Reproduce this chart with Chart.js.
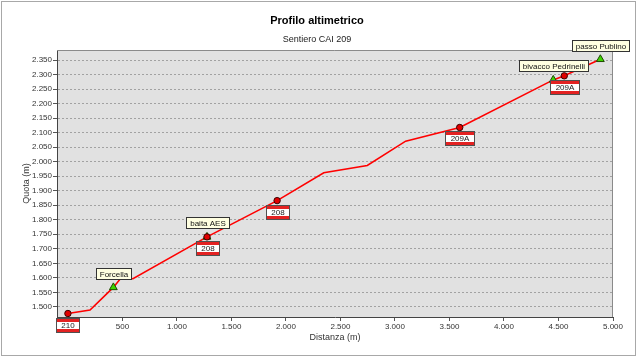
<!DOCTYPE html>
<html>
<head>
<meta charset="utf-8">
<script src="https://cdn.jsdelivr.net/npm/chart.js@4.4.1/dist/chart.umd.min.js"></script>
<style>
  html, body { margin: 0; padding: 0; background: #fff; }
  #wrap { width: 640px; height: 357px; }
</style>
</head>
<body>
<div id="wrap"><canvas id="profilo" width="640" height="357"></canvas></div>
<script>
// vertici del profilo: distanza (m) e quota (m)
const distanza = [0, 203, 417, 490, 597, 1276, 1919, 2347, 2746, 3098, 3594, 4452, 4553, 4884];
const quota = [1477, 1489, 1567, 1601, 1597, 1741, 1866, 1962, 1987, 2071, 2118, 2282, 2296, 2353];

// segnavia (pallini rossi)
const segnaviaDist = [0, 1276, 1919, 3594, 4553];
const segnaviaQuota = [1477, 1741, 1866, 2118, 2296];
const segnaviaNomi = ["210", "208", "208", "209A", "209A"];

// localita' (triangoli verdi)
const luoghiDist = [417, 1276, 4452, 4884];
const luoghiQuota = [1567, 1741, 2282, 2353];
const luoghiNomi = ["Forcella", "baita AES", "bivacco Pedrinelli", "passo Publino"];

const xTicks = [500, 1000, 1500, 2000, 2500, 3000, 3500, 4000, 4500, 5000];
const yTicks = [1500, 1550, 1600, 1650, 1700, 1750, 1800, 1850, 1900, 1950,
                2000, 2050, 2100, 2150, 2200, 2250, 2300, 2350];

const FONT = '"Liberation Sans", Arial, sans-serif';
Chart.defaults.font.family = FONT;

// 2350 -> "2.350"
const fmt = (v) => String(v).replace(/\B(?=(\d{3})+(?!\d))/g, ".");

const toXY = (xs, ys) => xs.map((x, i) => ({ x: x, y: ys[i] }));

// sfondo, cornice e area del grafico
const sfondoPlugin = {
  id: "sfondo",
  beforeDraw: (chart) => {
    const ctx = chart.ctx;
    const a = chart.chartArea;
    ctx.save();
    ctx.fillStyle = "#fff";
    ctx.fillRect(0, 0, chart.width, chart.height);
    ctx.strokeStyle = "#a8a8a8";
    ctx.lineWidth = 1;
    ctx.strokeRect(1.5, 1.5, 634, 354);
    ctx.fillStyle = "#e1e1e1";
    ctx.fillRect(a.left, a.top, a.right - a.left, a.bottom - a.top);
    ctx.restore();
  },
  beforeDatasetsDraw: (chart) => {
    const ctx = chart.ctx;
    const a = chart.chartArea;
    ctx.save();
    ctx.strokeStyle = "#8a8a8a";
    ctx.lineWidth = 1;
    ctx.beginPath();
    ctx.moveTo(a.left, a.top + 0.5);
    ctx.lineTo(a.right - 0.5, a.top + 0.5);
    ctx.lineTo(a.right - 0.5, a.bottom);
    ctx.stroke();
    ctx.restore();
  },
};

// etichette dei segnavia e delle localita'
const etichettePlugin = {
  id: "etichette",
  afterDatasetsDraw: (chart) => {
    const ctx = chart.ctx;
    const sx = chart.scales.x;
    const sy = chart.scales.y;
    ctx.save();
    ctx.font = "8px " + FONT;
    ctx.textAlign = "center";
    ctx.textBaseline = "middle";
    ctx.lineWidth = 1;

    segnaviaNomi.forEach((nome, i) => {
      const cx = sx.getPixelForValue(segnaviaDist[i]);
      const cy = sy.getPixelForValue(segnaviaQuota[i]);
      const w = Math.round(ctx.measureText(nome).width + 10);
      const h = 14;
      const x = Math.round(cx - w / 2) + 0.5;
      const y = Math.round(cy + 4) + 0.5;
      ctx.fillStyle = "#fff";
      ctx.fillRect(x, y, w, h);
      ctx.fillStyle = "#e32222";
      ctx.fillRect(x, y, w, 3.5);
      ctx.fillRect(x, y + h - 3.5, w, 3.5);
      ctx.strokeStyle = "#505050";
      ctx.strokeRect(x, y, w, h);
      ctx.fillStyle = "#222";
      ctx.fillText(nome, x + w / 2, y + h / 2 + 0.5);
    });

    luoghiNomi.forEach((nome, i) => {
      const cx = sx.getPixelForValue(luoghiDist[i]);
      const cy = sy.getPixelForValue(luoghiQuota[i]);
      const w = Math.round(ctx.measureText(nome).width + 7);
      const h = 11;
      const x = Math.round(cx - w / 2) + 0.5;
      const y = Math.round(cy - 8.5 - h) + 0.5;
      ctx.fillStyle = "#ffffe1";
      ctx.fillRect(x, y, w, h);
      ctx.strokeStyle = "#333";
      ctx.strokeRect(x, y, w, h);
      ctx.fillStyle = "#111";
      ctx.fillText(nome, x + w / 2, y + h / 2 + 0.5);
    });
    ctx.restore();
  },
};

new Chart(document.getElementById("profilo"), {
  type: "scatter",
  data: {
    datasets: [
      {
        label: "segnavia",
        data: toXY(segnaviaDist, segnaviaQuota),
        order: 0,
        pointStyle: "circle",
        pointRadius: 3.2,
        backgroundColor: "#e00000",
        borderColor: "#3a0000",
        borderWidth: 1,
      },
      {
        label: "localita",
        data: toXY(luoghiDist, luoghiQuota),
        order: 1,
        pointStyle: "triangle",
        pointRadius: 4.5,
        backgroundColor: "#3fd400",
        borderColor: "#1d4a00",
        borderWidth: 1,
      },
      {
        label: "profilo",
        data: toXY(distanza, quota),
        order: 2,
        showLine: true,
        borderColor: "#ff0000",
        borderWidth: 1.6,
        pointRadius: 0,
        tension: 0,
      },
    ],
  },
  options: {
    responsive: false,
    animation: false,
    layout: { padding: { left: 21, top: 0, right: 27, bottom: 0 } },
    plugins: {
      legend: { display: false },
      tooltip: { enabled: false },
      title: {
        display: true,
        text: "Profilo altimetrico",
        color: "#000",
        font: { size: 11, weight: "bold" },
        padding: { top: 14.4, bottom: 0 },
      },
      subtitle: {
        display: true,
        text: "Sentiero CAI 209",
        color: "#222",
        font: { size: 9 },
        padding: { top: 7, bottom: 4.6 },
      },
    },
    scales: {
      x: {
        type: "linear",
        min: -100,
        max: 5000,
        afterBuildTicks: (s) => {
          s.ticks = xTicks.map((v) => ({ value: v }));
        },
        afterFit: (s) => {
          s.height = 40;
        },
        grid: { drawOnChartArea: false, drawTicks: true, tickLength: 4, tickColor: "#555" },
        border: { display: true, color: "#444", width: 1 },
        ticks: {
          autoSkip: false,
          maxRotation: 0,
          padding: 1,
          color: "#333",
          font: { size: 8 },
          callback: (v) => fmt(v),
        },
        title: {
          display: true,
          text: "Distanza (m)",
          color: "#333",
          font: { size: 9 },
          padding: { top: 0, bottom: 14 },
        },
      },
      y: {
        type: "linear",
        min: 1465,
        max: 2385,
        afterBuildTicks: (s) => {
          s.ticks = yTicks.map((v) => ({ value: v }));
        },
        afterFit: (s) => {
          s.width = 36;
        },
        grid: { color: "#a2a2a2", tickLength: 4, tickColor: "#555" },
        border: { display: true, color: "#444", width: 1, dash: [2, 2] },
        ticks: {
          autoSkip: false,
          padding: 1,
          color: "#333",
          font: { size: 8 },
          callback: (v) => fmt(v),
        },
        title: {
          display: true,
          text: "Quota (m)",
          color: "#333",
          font: { size: 9 },
          padding: { top: 0.6, bottom: 0 },
        },
      },
    },
  },
  plugins: [sfondoPlugin, etichettePlugin],
});
</script>
</body>
</html>
